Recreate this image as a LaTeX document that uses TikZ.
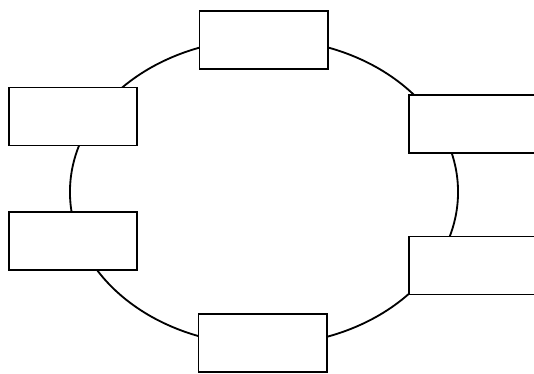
\documentclass[tikz,border=0pt]{standalone}
\usetikzlibrary{shapes.geometric}

\begin{document}
\begin{tikzpicture}[x=0.025cm,y=-0.025cm,ring/.style={ellipse,draw,line width=1.3pt,minimum width=9.7cm,minimum height=7.65cm,inner sep=0pt},box/.style={rectangle,draw,fill=white,line width=1.4pt,minimum width=3.2cm,minimum height=1.45cm,inner sep=0pt}]
\useasboundingbox (0,0) rectangle (534,374);
\node[ring](ring) at (264,192){};
\node[box](top) at (263.5,40){};
\node[box](lu) at (73,116.5){};
\node[box](ll) at (73,241){};
\node[box](ru) at (473,124){};
\node[box](rl) at (473,265.5){};
\node[box](bot) at (262.5,343){};
\end{tikzpicture}
\end{document}
